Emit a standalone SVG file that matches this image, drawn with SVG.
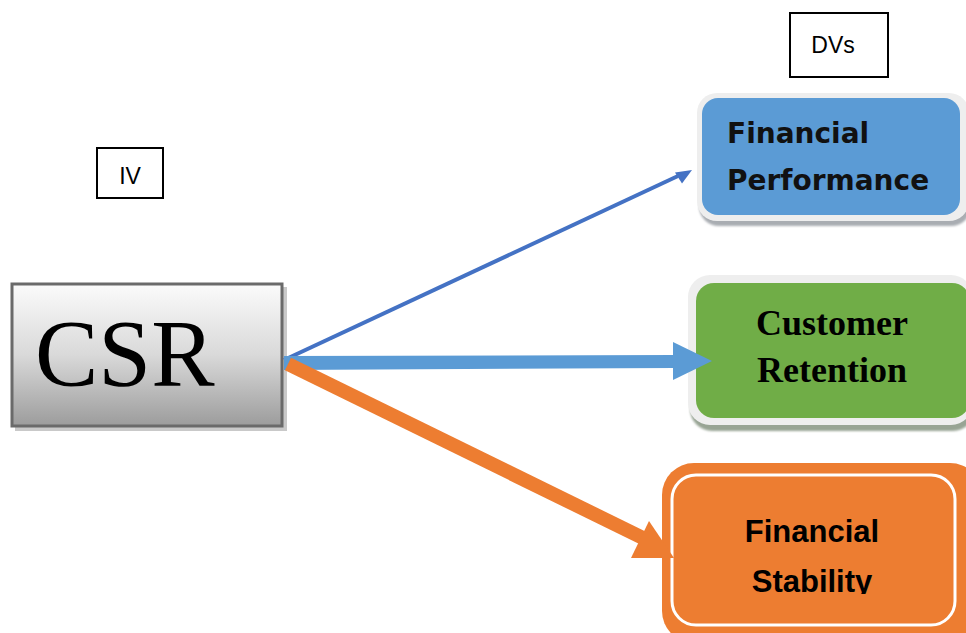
<svg xmlns="http://www.w3.org/2000/svg" width="966" height="633" viewBox="0 0 966 633">
  <defs>
    <linearGradient id="csrFill" x1="0" y1="0" x2="0" y2="1">
      <stop offset="0" stop-color="#fbfbfb"/>
      <stop offset="0.5" stop-color="#d9d9d9"/>
      <stop offset="1" stop-color="#9c9c9c"/>
    </linearGradient>
    <filter id="soft" x="-10%" y="-10%" width="120%" height="130%">
      <feGaussianBlur stdDeviation="1.2"/>
    </filter>
    <clipPath id="stabClip">
      <rect x="660" y="460" width="306" height="134"/>
    </clipPath>
  </defs>
  <style>
    .tag { fill: #ffffff; stroke: #000000; stroke-width: 2; }
    .tagText { font-family: "Liberation Sans", Arial, sans-serif; font-size: 23px; fill: #000000; }
    .fpText { font-family: "DejaVu Sans", Verdana, sans-serif; font-weight: bold; font-size: 28px; fill: #111111; }
    .crText { font-family: "Liberation Serif", "Times New Roman", serif; font-weight: bold; font-size: 36px; fill: #000000; text-anchor: middle; }
    .fsText { font-family: "Liberation Sans", Arial, sans-serif; font-weight: bold; font-size: 31px; fill: #000000; text-anchor: middle; }
  </style>

  <!-- label tags -->
  <g id="dvs">
    <rect class="tag" x="790" y="13" width="98" height="64"/>
    <text class="tagText" x="833" y="53" text-anchor="middle">DVs</text>
  </g>
  <g id="iv">
    <rect class="tag" x="97" y="148" width="66" height="50"/>
    <text class="tagText" x="130" y="184" text-anchor="middle">IV</text>
  </g>

  <!-- independent variable -->
  <g id="csr">
    <rect x="15" y="287" width="272" height="144" fill="#c9c9c9"/>
    <rect x="12" y="284" width="270" height="142" fill="url(#csrFill)" stroke="#6a6a6a" stroke-width="3"/>
    <text x="35" y="386" font-family="'Liberation Serif', 'Times New Roman', serif" font-size="95" fill="#000000">CSR</text>
  </g>

  <!-- dependent variables -->
  <g id="financial-performance">
    <rect x="699" y="98" width="272" height="128" rx="20" fill="#a9adb2" filter="url(#soft)"/>
    <rect x="697" y="93" width="272" height="128" rx="20" fill="#eeeeee"/>
    <rect x="702" y="98" width="258" height="117" rx="16" fill="#5b9bd5"/>
    <text class="fpText" x="727" y="143">Financial</text>
    <text class="fpText" x="727" y="190">Performance</text>
  </g>

  <g id="customer-retention">
    <rect x="690" y="281" width="285" height="150" rx="22" fill="#98a494" filter="url(#soft)"/>
    <rect x="688" y="275" width="285" height="150" rx="22" fill="#eeeeee"/>
    <rect x="696" y="283" width="274" height="135" rx="18" fill="#70ad47"/>
    <text class="crText" x="832" y="335">Customer</text>
    <text class="crText" x="832" y="382">Retention</text>
  </g>

  <g id="financial-stability">
    <rect x="662" y="463" width="320" height="180" rx="32" fill="#ed7d31"/>
    <rect x="672" y="475" width="283" height="150" rx="24" fill="#ed7d31" stroke="#ffffff" stroke-width="3"/>
    <g clip-path="url(#stabClip)">
      <text class="fsText" x="812" y="542">Financial</text>
      <text class="fsText" x="812" y="592">Stability</text>
    </g>
  </g>

  <!-- connectors -->
  <g id="connectors">
    <!-- CSR to Financial Performance -->
    <line x1="284" y1="360" x2="678" y2="176" stroke="#4472c4" stroke-width="4"/>
    <polygon points="692,170 675,172.5 682,183.5" fill="#4472c4"/>
    <!-- CSR to Customer Retention -->
    <polygon points="284,356 675,355 675,368 284,370" fill="#5b9bd5"/>
    <polygon points="673,342 712,361 673,380" fill="#5b9bd5"/>
    <!-- CSR to Financial Stability -->
    <line x1="288" y1="364" x2="645" y2="539" stroke="#ed7d31" stroke-width="14"/>
    <polygon points="649,521 631,558 674,558" fill="#ed7d31"/>
  </g>
</svg>
